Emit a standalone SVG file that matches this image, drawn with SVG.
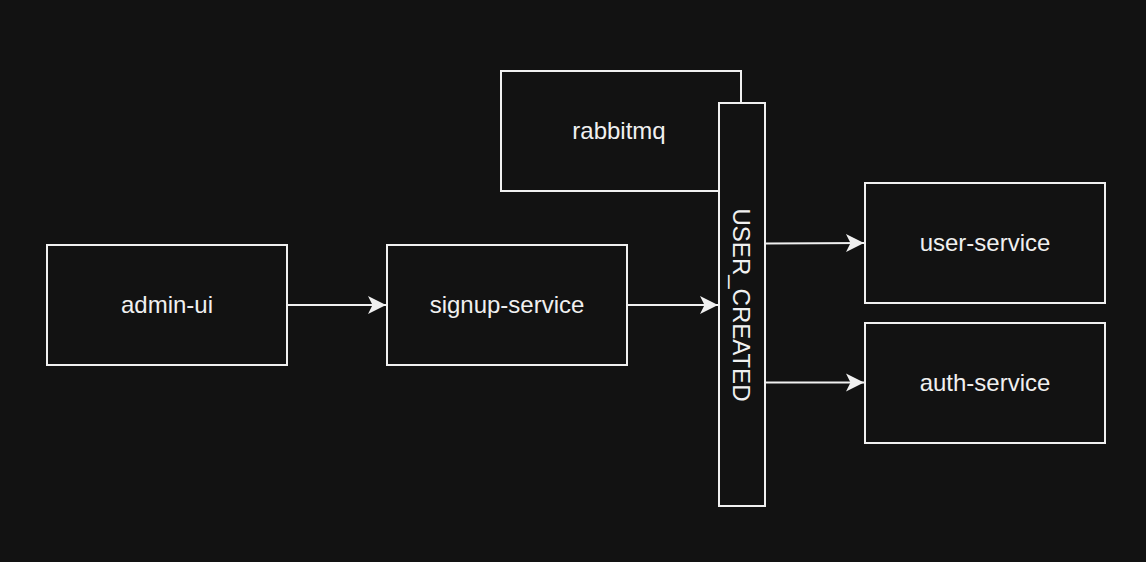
<svg xmlns="http://www.w3.org/2000/svg" width="1146" height="562" viewBox="0 0 1146 562">
<defs>
<style>
.box{fill:#121212;stroke:#f0f0f0;stroke-width:2}
.lbl{fill:#f0f0f0;font-family:"Liberation Sans",Arial,sans-serif;font-size:24px;text-anchor:middle;dominant-baseline:central}
.edge{stroke:#f0f0f0;stroke-width:2;fill:none}
</style>
<marker id="arr" markerUnits="userSpaceOnUse" markerWidth="22" markerHeight="20" refX="19" refY="10" orient="auto">
<path d="M1,1 L19,10 L1,19 L5.5,10 Z" fill="#f0f0f0"/>
</marker>
</defs>
<rect width="1146" height="562" fill="#121212"/>
<g id="rabbitmq"><rect class="box" x="501" y="71" width="240" height="120"/><text class="lbl" x="619" y="130">rabbitmq</text></g>
<g id="user_created"><rect class="box" x="719" y="103" width="46" height="403"/><text class="lbl" transform="translate(741,305) rotate(90)">USER_CREATED</text></g>
<g id="admin-ui"><rect class="box" x="47" y="245" width="240" height="120"/><text class="lbl" x="167" y="304">admin-ui</text></g>
<g id="signup-service"><rect class="box" x="387" y="245" width="240" height="120"/><text class="lbl" x="507" y="304">signup-service</text></g>
<g id="user-service"><rect class="box" x="865" y="183" width="240" height="120"/><text class="lbl" x="985" y="242">user-service</text></g>
<g id="auth-service"><rect class="box" x="865" y="323" width="240" height="120"/><text class="lbl" x="985" y="382">auth-service</text></g>
<g id="connectors">
<path class="edge" d="M288,305 L386,305" marker-end="url(#arr)"/>
<path class="edge" d="M628,305 L718,305" marker-end="url(#arr)"/>
<path class="edge" d="M766,243.5 L864,243" marker-end="url(#arr)"/>
<path class="edge" d="M766,382.5 L864,382.5" marker-end="url(#arr)"/>
</g>
</svg>
